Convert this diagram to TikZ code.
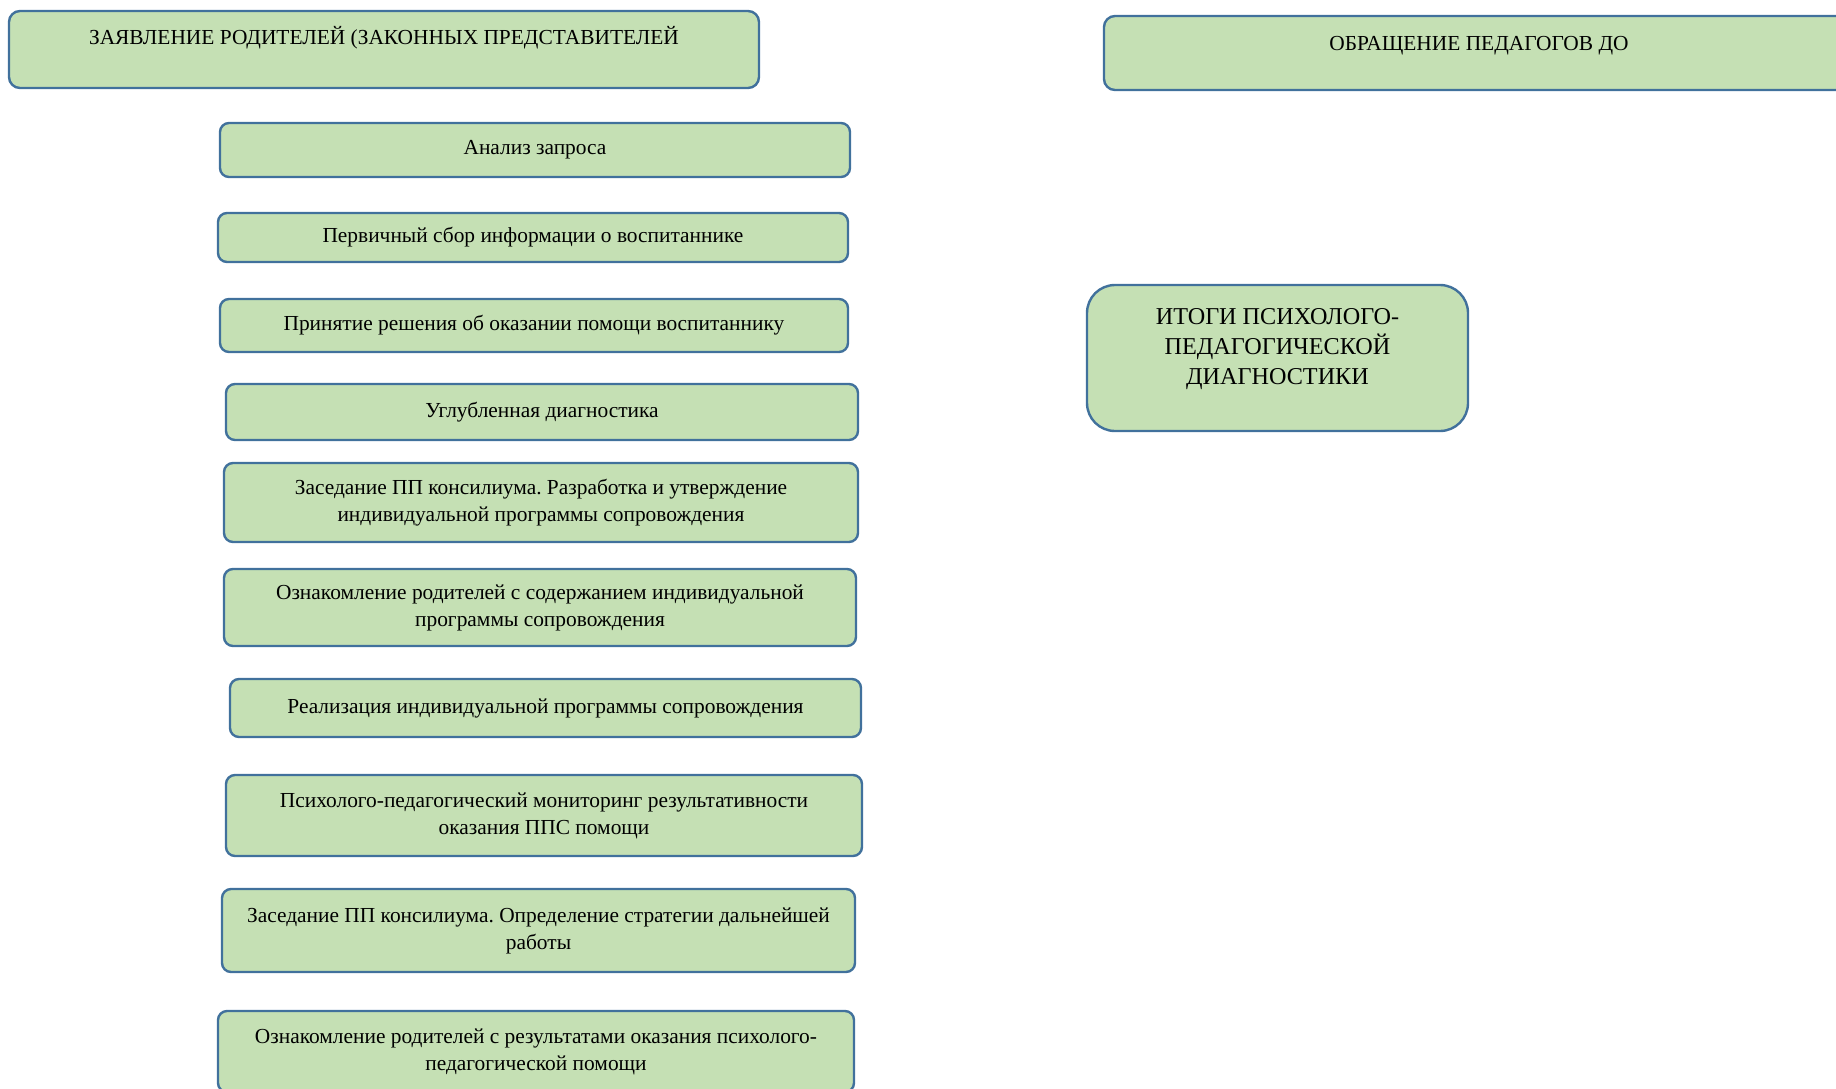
\documentclass[tikz,border=0pt]{standalone}
\usepackage{fontspec}
\setmainfont{Liberation Serif}
\frenchspacing
\definecolor{boxfill}{HTML}{C5E0B4}
\definecolor{boxline}{HTML}{41719C}
\tikzset{
  stage/.style={draw=boxline, fill=boxfill, line width=1.2pt, rounded corners=4.5pt,
    inner sep=0pt, align=center, font=\fontsize{10.7}{13.5}\selectfont},
  headbox/.style={stage, rounded corners=5.5pt},
  resultbox/.style={stage, rounded corners=14pt, font=\fontsize{12.1}{15}\selectfont}
}
\begin{document}
\begin{tikzpicture}[x=0.5pt, y=-0.5pt]
\useasboundingbox (0,0) rectangle (1836,1088);
\clip (0,0) rectangle (1836,1088);

% heads
\node[headbox, minimum width=375pt, minimum height=38.5pt] (zayav) at (384, 49.5)
  {ЗАЯВЛЕНИЕ РОДИТЕЛЕЙ (ЗАКОННЫХ ПРЕДСТАВИТЕЛЕЙ\\[-3.5pt] \strut};
\node[headbox, minimum width=375pt, minimum height=37pt] (obr) at (1479, 53)
  {ОБРАЩЕНИЕ ПЕДАГОГОВ ДО\\[-8pt] \strut};

% stages
\node[stage, minimum width=315pt, minimum height=27pt] (analiz) at (535, 150) {Анализ запроса};
\node[stage, minimum width=315pt, minimum height=24.5pt] (sbor) at (533, 237.5) {Первичный сбор информации о воспитаннике};
\node[stage, minimum width=314pt, minimum height=26.5pt] (reshenie) at (534, 325.5) {Принятие решения об оказании помощи воспитаннику};
\node[stage, minimum width=316pt, minimum height=28pt] (diagn) at (542, 412) {Углубленная диагностика};
\node[stage, minimum width=317pt, minimum height=39.5pt] (zased1) at (541, 502.5)
  {Заседание ПП консилиума. Разработка и утверждение\\индивидуальной программы сопровождения};
\node[stage, minimum width=316pt, minimum height=38.5pt] (oznak1) at (540, 607.5)
  {Ознакомление родителей с содержанием индивидуальной\\программы сопровождения};
\node[stage, minimum width=315.5pt, minimum height=29pt] (realiz) at (545.5, 708) {Реализация индивидуальной программы сопровождения};
\node[stage, minimum width=318pt, minimum height=40.5pt] (monit) at (544, 815.5)
  {Психолого-педагогический мониторинг результативности\\оказания ППС помощи};
\node[stage, minimum width=316.5pt, minimum height=41.5pt] (zased2) at (538.5, 930.5)
  {Заседание ПП консилиума. Определение стратегии дальнейшей\\работы};
\node[stage, minimum width=318pt, minimum height=40.5pt] (oznak2) at (536, 1051.5)
  {Ознакомление родителей с результатами оказания психолого-\\педагогической помощи};

% result
\node[resultbox, minimum width=190.5pt, minimum height=73pt] (itogi) at (1277.5, 358)
  {ИТОГИ ПСИХОЛОГО-\\ПЕДАГОГИЧЕСКОЙ\\ДИАГНОСТИКИ\\[-8pt] \strut};
\end{tikzpicture}
\end{document}
